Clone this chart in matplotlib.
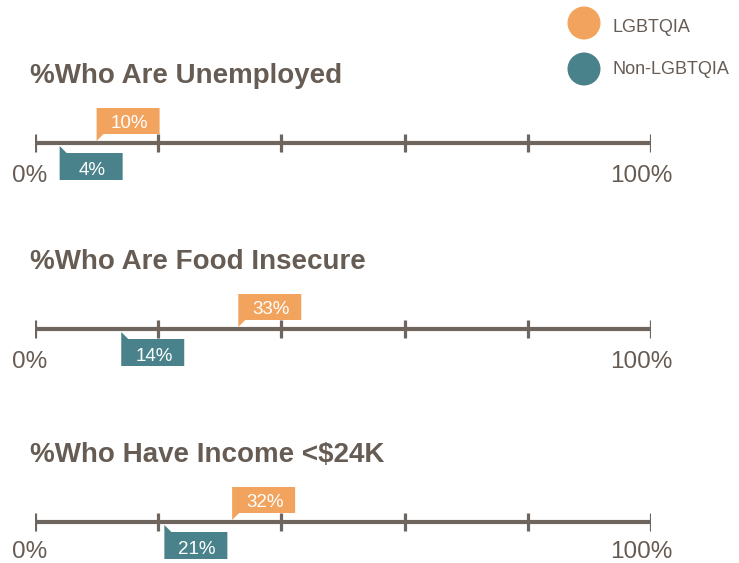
import matplotlib.pyplot as plt
from matplotlib.patches import Polygon, Circle

# data
titles = ["%Who Are Unemployed", "%Who Are Food Insecure", "%Who Have Income <$24K"]
lgbtqia = [10, 33, 32]
non_lgbtqia = [4, 14, 21]
ticks = [0, 20, 40, 60, 80, 100]
series_names = ["LGBTQIA", "Non-LGBTQIA"]

ORANGE = "#F2A35E"
TEAL = "#49828B"
GREY = "#6E655E"
TEXT = "#665C54"

plt.rcParams["font.family"] = ["Liberation Sans", "DejaVu Sans"]

W, H = 739, 563
fig = plt.figure(figsize=(W / 100, H / 100), dpi=100)

line_y = [143, 329, 522]  # pixel rows from top
x0, x1 = 35, 651
px = 100 / (x1 - x0)  # percent per pixel

box_w = 63 * px
tail = 7 * px

for i, ly in enumerate(line_y):
    bottom = (H - ly - 50) / H
    ax = fig.add_axes([x0 / W, bottom, (x1 - x0) / W, 100 / H])
    ax.set_xlim(0, 100)
    ax.set_ylim(-50, 50)
    ax.axis("off")

    ax.plot([0, 100], [0, 0], color=GREY, lw=3, solid_capstyle="butt", zorder=1)
    for t in ticks:
        ax.plot([t, t], [-9, 9], color=GREY, lw=2.3, solid_capstyle="butt", zorder=1)

    lab_y = -36 if i == 2 else -39
    ax.text(-0.8, lab_y, "0%", ha="center", va="baseline", fontsize=17.5, color=TEXT, clip_on=False)
    ax.text(98.5, lab_y, "100%", ha="center", va="baseline", fontsize=17.5, color=TEXT, clip_on=False)

    ax.text(-0.8, 60, titles[i], ha="left", va="baseline", fontsize=20, color=TEXT,
            fontweight="bold", clip_on=False)

    v = lgbtqia[i]
    ax.add_patch(Polygon([(v, 2), (v + tail, 9), (v + box_w, 9), (v + box_w, 35), (v, 35)],
                         closed=True, color=ORANGE, lw=0, zorder=2, clip_on=False))
    ax.text(v + box_w / 2 + 0.2, 15, f"{v}%", ha="center", va="baseline", fontsize=13.5,
            color="white", zorder=3)

    v = non_lgbtqia[i]
    ax.add_patch(Polygon([(v, -3), (v + tail, -10), (v + box_w, -10), (v + box_w, -37), (v, -37)],
                         closed=True, color=TEAL, lw=0, zorder=2, clip_on=False))
    ax.text(v + box_w / 2 + 0.2, -32, f"{v}%", ha="center", va="baseline", fontsize=13.5,
            color="white", zorder=3)

# legend
lax = fig.add_axes([0, 0, 1, 1])
lax.set_xlim(0, W)
lax.set_ylim(H, 0)
lax.axis("off")
for name, col, cy, by in zip(series_names, [ORANGE, TEAL], [23, 69], [32, 74]):
    lax.add_patch(Circle((584, cy), 16.5, color=col, lw=0))
    lax.text(612, by, name, ha="left", va="baseline", fontsize=13, color=TEXT)

fig.savefig("out.png", dpi=100)
